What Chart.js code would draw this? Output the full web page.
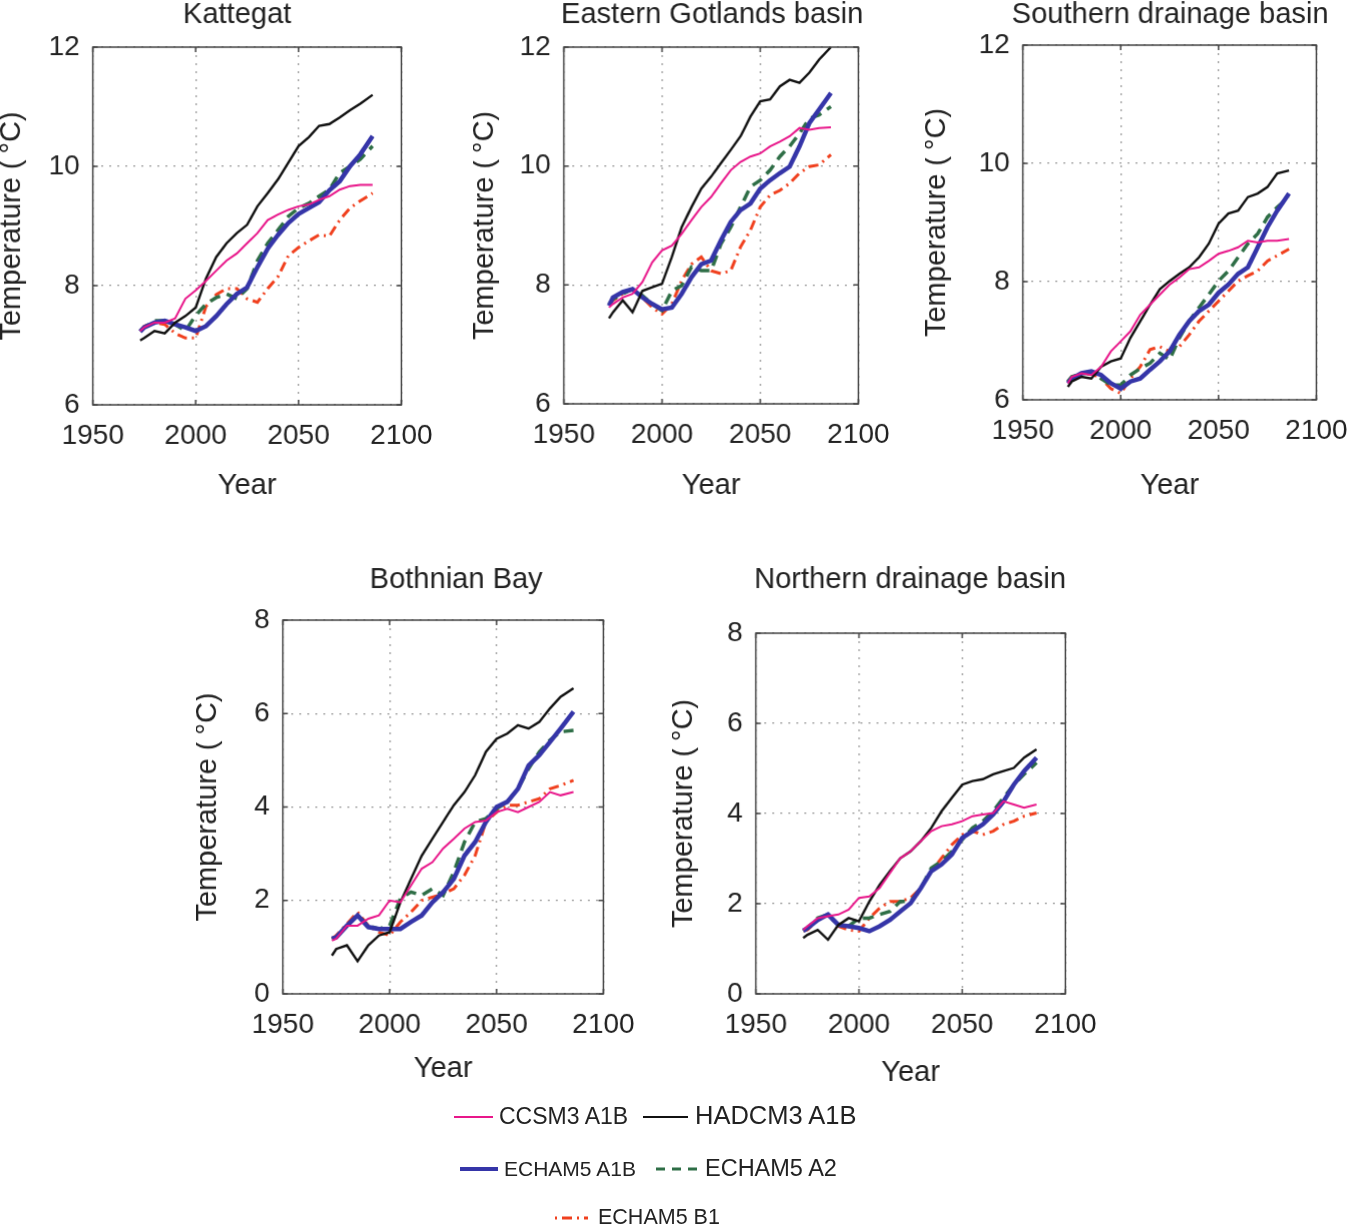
<!DOCTYPE html>
<html>
<head>
<meta charset="utf-8">
<script src="https://cdn.jsdelivr.net/npm/chart.js@4.4.1/dist/chart.umd.min.js"></script>
<style>
  html, body { margin: 0; padding: 0; background: #fff; overflow: hidden; }
  body { width: 1351px; height: 1229px; position: relative; font-family: "Liberation Sans", Arial, sans-serif; }
  .panel { position: absolute; }
  .leg { position: absolute; color: #222; white-space: nowrap; line-height: 1; }
</style>
</head>
<body>

<div id="p1" class="panel"><canvas id="c1"></canvas></div>
<div id="p2" class="panel"><canvas id="c2"></canvas></div>
<div id="p3" class="panel"><canvas id="c3"></canvas></div>
<div id="p4" class="panel"><canvas id="c4"></canvas></div>
<div id="p5" class="panel"><canvas id="c5"></canvas></div>

<!-- legend -->
<svg style="position:absolute;left:0;top:0" width="1351" height="1229">
  <line x1="454" y1="1117" x2="493" y2="1117" stroke="#e8178a" stroke-width="2"/>
  <line x1="643" y1="1117" x2="688" y2="1117" stroke="#111" stroke-width="2.2"/>
  <line x1="460" y1="1169" x2="498" y2="1169" stroke="#3535a8" stroke-width="4"/>
  <line x1="656" y1="1169" x2="698" y2="1169" stroke="#2e6e46" stroke-width="3" stroke-dasharray="9,7"/>
  <line x1="555" y1="1218" x2="588" y2="1218" stroke="#f0401e" stroke-width="3" stroke-dasharray="2,5,10,5"/>
</svg>
<div class="leg" style="left:499px;top:1105px;font-size:23px">CCSM3 A1B</div>
<div class="leg" style="left:695px;top:1103px;font-size:25.5px">HADCM3 A1B</div>
<div class="leg" style="left:504px;top:1158px;font-size:21px">ECHAM5 A1B</div>
<div class="leg" style="left:705px;top:1157px;font-size:23.5px">ECHAM5 A2</div>
<div class="leg" style="left:598px;top:1207px;font-size:21.5px">ECHAM5 B1</div>

<script>
// years of the running means (shared by all basins)
var years = [1973,1975,1980,1985,1990,1995,2000,2005,2010,2015,2020,2025,2030,2035,2040,2045,2050,2055,2060,2065,2070,2075,2080,2086];

// Kattegat
var kattCCSM3  = [7.24,7.30,7.38,7.38,7.45,7.78,7.92,8.08,8.25,8.42,8.54,8.71,8.88,9.10,9.19,9.27,9.33,9.36,9.44,9.50,9.61,9.67,9.69,9.69];
var kattHADCM3 = [7.08,7.12,7.24,7.20,7.38,7.49,7.63,8.12,8.48,8.71,8.88,9.02,9.33,9.55,9.78,10.06,10.34,10.49,10.68,10.71,10.82,10.94,11.05,11.20];
var kattA1B    = [7.23,7.30,7.38,7.41,7.35,7.30,7.24,7.32,7.49,7.69,7.86,7.97,8.31,8.62,8.85,9.05,9.20,9.30,9.40,9.60,9.75,10.00,10.20,10.51];
var kattA2     = [7.24,7.30,7.41,7.41,7.35,7.24,7.50,7.69,7.80,7.86,7.78,7.95,8.42,8.71,8.93,9.16,9.30,9.38,9.50,9.61,9.89,10.00,10.12,10.34];
var kattB1     = [7.24,7.32,7.38,7.35,7.20,7.12,7.12,7.65,7.85,7.95,7.95,7.78,7.72,7.95,8.15,8.50,8.64,8.75,8.85,8.83,9.10,9.30,9.42,9.55];

// Eastern Gotlands basin
var gotCCSM3  = [7.62,7.68,7.79,7.85,8.05,8.38,8.58,8.66,8.86,9.09,9.31,9.48,9.71,9.93,10.07,10.16,10.21,10.33,10.41,10.50,10.64,10.61,10.64,10.65];
var gotHADCM3 = [7.44,7.54,7.74,7.54,7.90,7.96,8.02,8.47,8.97,9.31,9.62,9.82,10.05,10.27,10.50,10.83,11.09,11.12,11.34,11.45,11.40,11.57,11.79,12.00];
var gotA1B    = [7.65,7.79,7.88,7.93,7.79,7.68,7.59,7.62,7.85,8.13,8.35,8.41,8.75,9.06,9.26,9.37,9.62,9.76,9.88,9.99,10.33,10.72,10.95,11.23];
var gotA2     = [7.68,7.76,7.85,7.93,7.82,7.68,7.57,7.90,7.99,8.30,8.24,8.24,8.69,8.97,9.31,9.65,9.76,9.93,10.16,10.33,10.55,10.80,10.86,11.00];
var gotB1     = [7.68,7.74,7.85,7.93,7.79,7.62,7.51,7.68,8.07,8.35,8.47,8.24,8.19,8.24,8.64,8.92,9.31,9.51,9.59,9.71,9.88,9.99,10.02,10.19];

// Southern drainage basin
var southCCSM3  = [6.28,6.39,6.45,6.42,6.56,6.82,6.99,7.16,7.44,7.61,7.78,7.95,8.07,8.21,8.24,8.35,8.47,8.52,8.58,8.69,8.66,8.69,8.69,8.72];
var southHADCM3 = [6.22,6.31,6.39,6.36,6.56,6.65,6.70,7.05,7.33,7.61,7.87,8.01,8.13,8.24,8.41,8.64,8.98,9.15,9.20,9.43,9.49,9.60,9.83,9.88];
var southA1B    = [6.28,6.36,6.45,6.48,6.42,6.28,6.19,6.31,6.36,6.51,6.65,6.82,7.10,7.33,7.50,7.61,7.81,7.95,8.13,8.24,8.58,8.92,9.20,9.49];
var southA2     = [6.31,6.39,6.45,6.45,6.36,6.25,6.25,6.42,6.53,6.62,6.79,6.68,7.05,7.33,7.56,7.78,8.01,8.18,8.41,8.64,8.81,9.09,9.26,9.43];
var southB1     = [6.31,6.39,6.42,6.45,6.36,6.19,6.11,6.36,6.56,6.85,6.90,6.82,6.90,7.10,7.33,7.50,7.67,7.84,8.01,8.10,8.18,8.35,8.44,8.55];

// Bothnian Bay
var bothCCSM3  = [1.14,1.18,1.46,1.46,1.61,1.68,2.00,1.96,2.32,2.68,2.82,3.11,3.32,3.54,3.68,3.71,3.89,3.96,3.89,4.00,4.11,4.32,4.25,4.32];
var bothHADCM3 = [0.82,0.96,1.04,0.70,1.04,1.25,1.32,1.96,2.46,2.96,3.32,3.68,4.04,4.32,4.68,5.18,5.46,5.57,5.75,5.68,5.82,6.11,6.36,6.54];
var bothA1B    = [1.18,1.21,1.46,1.68,1.43,1.39,1.39,1.39,1.54,1.68,1.96,2.18,2.46,2.96,3.25,3.68,4.00,4.11,4.39,4.89,5.11,5.39,5.68,6.04];
var bothA2     = [1.18,1.21,1.46,1.68,1.46,1.39,1.46,2.04,2.18,2.11,2.25,2.11,2.61,3.25,3.68,3.75,3.96,4.11,4.39,4.82,5.18,5.43,5.61,5.64];
var bothB1     = [1.18,1.25,1.50,1.75,1.46,1.32,1.25,1.54,1.75,2.00,2.07,2.14,2.25,2.54,2.96,3.68,3.89,4.04,4.04,4.11,4.18,4.39,4.46,4.57];

// Northern drainage basin
var northCCSM3  = [1.42,1.50,1.68,1.72,1.76,1.87,2.13,2.16,2.35,2.68,3.01,3.16,3.39,3.61,3.72,3.76,3.83,3.94,3.98,4.01,4.27,4.20,4.13,4.20];
var northHADCM3 = [1.24,1.31,1.42,1.20,1.53,1.68,1.61,2.05,2.42,2.72,3.01,3.16,3.39,3.68,4.05,4.35,4.64,4.72,4.76,4.87,4.94,5.01,5.24,5.42];
var northA1B    = [1.40,1.46,1.64,1.76,1.53,1.50,1.46,1.39,1.50,1.64,1.83,2.01,2.35,2.72,2.87,3.09,3.46,3.61,3.76,3.98,4.27,4.64,4.94,5.24];
var northA2     = [1.40,1.46,1.68,1.76,1.53,1.50,1.68,1.68,1.76,1.83,2.05,2.05,2.35,2.79,2.94,3.16,3.42,3.68,3.83,4.05,4.35,4.64,4.87,5.13];
var northB1     = [1.40,1.42,1.64,1.76,1.50,1.42,1.39,1.68,1.90,2.05,2.05,2.13,2.35,2.72,3.01,3.31,3.53,3.61,3.53,3.61,3.76,3.83,3.94,4.01];

var seriesNames = ["CCSM3 A1B", "HADCM3 A1B", "ECHAM5 A1B", "ECHAM5 A2", "ECHAM5 B1"];

// line styles
var styles = [
  { color: '#e8178a', width: 2,   dash: [] },
  { color: '#111111', width: 2.4, dash: [] },
  { color: '#3535a8', width: 4.5, dash: [] },
  { color: '#2e6e46', width: 3.5, dash: [11, 7] },
  { color: '#f0401e', width: 3,   dash: [10, 5, 2, 5] }
];

var FONT = "'Liberation Sans', Arial, sans-serif";

function pts(vals) {
  return years.map(function(y, i) { return { x: y, y: vals[i] }; });
}

// panel title + box frame with inward ticks (matlab look)
var framePlugin = {
  id: 'frame',
  afterDraw: function(chart, args, opts) {
    var a = chart.chartArea, c = chart.ctx;
    c.save();
    c.strokeStyle = '#444';
    c.lineWidth = 1.5;
    c.strokeRect(a.left, a.top, a.right - a.left, a.bottom - a.top);
    var xs = chart.scales.x, ys = chart.scales.y;
    c.beginPath();
    xs.ticks.forEach(function(t) {
      var px = xs.getPixelForValue(t.value);
      c.moveTo(px, a.bottom); c.lineTo(px, a.bottom - 5);
      c.moveTo(px, a.top); c.lineTo(px, a.top + 5);
    });
    ys.ticks.forEach(function(t) {
      var py = ys.getPixelForValue(t.value);
      c.moveTo(a.left, py); c.lineTo(a.left + 5, py);
      c.moveTo(a.right, py); c.lineTo(a.right - 5, py);
    });
    c.stroke();
    // title
    c.fillStyle = '#222';
    c.font = '29px ' + FONT;
    c.textAlign = 'center';
    c.textBaseline = 'middle';
    c.fillText(opts.text, opts.x, opts.y);
    c.restore();
  }
};

function makePanel(id, canvasId, title, g, ymin, ymax, data) {
  var divLeft = Math.max(0, g.yTitleX - 11.6);
  var divTop = Math.max(0, g.titleY - 22);
  var yW = g.left - divLeft;
  var xH = g.xTitleY + 11.6 - g.bottom;
  var w = g.right + 44 - divLeft;
  var h = g.bottom + xH - divTop;
  var div = document.getElementById(id);
  div.style.left = divLeft + 'px';
  div.style.top = divTop + 'px';
  div.style.width = w + 'px';
  div.style.height = h + 'px';

  var datasets = data.map(function(vals, i) {
    return {
      label: seriesNames[i],
      data: pts(vals),
      borderColor: styles[i].color,
      borderWidth: styles[i].width,
      borderDash: styles[i].dash,
      pointRadius: 0,
      tension: 0,
      fill: false
    };
  });

  new Chart(document.getElementById(canvasId), {
    type: 'line',
    data: { datasets: datasets },
    plugins: [framePlugin],
    options: {
      responsive: true,
      maintainAspectRatio: false,
      animation: false,
      layout: { padding: { top: g.top - divTop, right: 32, left: 0, bottom: 0 } },
      plugins: {
        legend: { display: false },
        tooltip: { enabled: false },
        frame: { text: title, x: g.titleX - divLeft, y: g.titleY - divTop }
      },
      scales: {
        x: {
          type: 'linear', min: 1950, max: 2100,
          afterFit: function(s) { s.height = xH; },
          ticks: { stepSize: 50, padding: 14, color: '#222', font: { family: FONT, size: 28 },
                   callback: function(v) { return String(v); } },
          grid: { color: '#999', lineWidth: 1.3, drawTicks: false },
          border: { display: false, dash: [2, 6] },
          title: { display: true, text: 'Year', color: '#222', padding: 0,
                   font: { family: FONT, size: 29, lineHeight: 0.8 } }
        },
        y: {
          min: ymin, max: ymax,
          afterFit: function(s) { s.width = yW; },
          ticks: { stepSize: 2, padding: 13, color: '#222', font: { family: FONT, size: 28 } },
          grid: { color: '#999', lineWidth: 1.3, drawTicks: false },
          border: { display: false, dash: [2, 6] },
          title: { display: true, text: 'Temperature (\u2009°C)', color: '#222', padding: 0,
                   font: { family: FONT, size: 29, lineHeight: 0.8 } }
        }
      }
    }
  });
}

makePanel('p1', 'c1', 'Kattegat',
  { left: 93, right: 402, top: 47, bottom: 404, titleX: 237, titleY: 15, yTitleX: 12, xTitleY: 485 }, 6, 12,
  [kattCCSM3, kattHADCM3, kattA1B, kattA2, kattB1]);
makePanel('p2', 'c2', 'Eastern Gotlands basin',
  { left: 564, right: 859, top: 47, bottom: 403, titleX: 712, titleY: 15, yTitleX: 485, xTitleY: 485 }, 6, 12,
  [gotCCSM3, gotHADCM3, gotA1B, gotA2, gotB1]);
makePanel('p3', 'c3', 'Southern drainage basin',
  { left: 1023, right: 1317, top: 45, bottom: 399, titleX: 1170, titleY: 15, yTitleX: 937, xTitleY: 485 }, 6, 12,
  [southCCSM3, southHADCM3, southA1B, southA2, southB1]);
makePanel('p4', 'c4', 'Bothnian Bay',
  { left: 283, right: 604, top: 620, bottom: 993, titleX: 456, titleY: 580, yTitleX: 208, xTitleY: 1068 }, 0, 8,
  [bothCCSM3, bothHADCM3, bothA1B, bothA2, bothB1]);
makePanel('p5', 'c5', 'Northern drainage basin',
  { left: 756, right: 1066, top: 633, bottom: 993, titleX: 910, titleY: 580, yTitleX: 684, xTitleY: 1072 }, 0, 8,
  [northCCSM3, northHADCM3, northA1B, northA2, northB1]);
</script>
</body>
</html>
